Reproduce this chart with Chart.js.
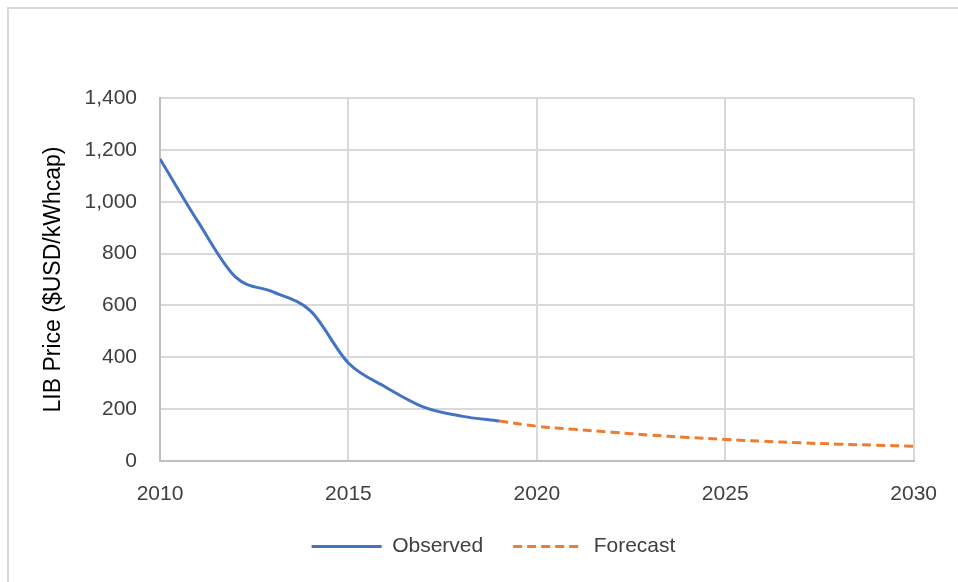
<!DOCTYPE html>
<html>
<head>
<meta charset="utf-8">
<script src="https://cdn.jsdelivr.net/npm/chart.js@4/dist/chart.umd.min.js"></script>
<style>
  html, body { margin: 0; padding: 0; background: #fff; }
  #wrap { position: relative; width: 958px; height: 582px; }
  #frame { position: absolute; left: 7px; top: 7px; right: -5px; bottom: -5px;
           border-left: 2px solid #d9d9d9; border-top: 2px solid #d9d9d9; pointer-events: none; }
  canvas { position: absolute; left: 0; top: 0; }
</style>
</head>
<body>
<div id="wrap">
  <canvas id="c" width="958" height="582"></canvas>
  <div id="frame"></div>
</div>
<script>
// ---- data ----
const observedYears  = [2010, 2011, 2012, 2013, 2014, 2015, 2016, 2017, 2018, 2019];
const observedValues = [1165, 925, 710, 652, 578, 378, 284, 208, 173, 154];
const forecastYears  = [2019, 2020, 2021, 2022, 2023, 2024, 2025, 2026, 2027, 2028, 2029, 2030];
const forecastValues = [154, 134, 122, 111, 100, 91, 83, 76, 70, 65, 61, 57];
const seriesNames    = ['Observed', 'Forecast'];
const yAxisTitle     = 'LIB Price ($USD/kWhcap)';
const xTickRange     = [2010, 2030, 5];
const yTickRange     = [0, 1400, 200];

const toPoints = (xs, ys) => xs.map((x, i) => ({ x: x, y: ys[i] }));

const FONT = "'Liberation Sans', Arial, sans-serif";

new Chart(document.getElementById('c'), {
  type: 'line',
  data: {
    datasets: [
      {
        label: seriesNames[0],
        data: toPoints(observedYears, observedValues),
        borderColor: '#4472C4',
        backgroundColor: '#4472C4',
        borderWidth: 3,
        pointRadius: 0,
        pointStyle: 'line',
        tension: 0.4,
        cubicInterpolationMode: 'monotone',
        fill: false
      },
      {
        label: seriesNames[1],
        data: toPoints(forecastYears, forecastValues),
        borderColor: '#ED7D31',
        backgroundColor: '#ED7D31',
        borderWidth: 3,
        borderDash: [9, 5],
        pointRadius: 0,
        pointStyle: 'line',
        tension: 0.4,
        fill: false
      }
    ]
  },
  options: {
    responsive: false,
    animation: false,
    locale: 'en-US',
    layout: { padding: { left: 49, right: 20, top: 98, bottom: 15 } },
    plugins: {
      tooltip: { enabled: false },
      legend: {
        position: 'bottom',
        labels: {
          font: { family: FONT, size: 21 },
          color: '#404040',
          usePointStyle: true,
          pointStyle: 'line',
          pointStyleWidth: 70,
          boxWidth: 70,
          boxHeight: 21,
          padding: 30,
          generateLabels: chart => {
            const items = Chart.defaults.plugins.legend.labels.generateLabels(chart);
            return items.map(it => {
              const ds = chart.data.datasets[it.datasetIndex];
              it.lineDash = ds.borderDash || [];
              it.lineWidth = ds.borderWidth;
              it.strokeStyle = ds.borderColor;
              it.lineCap = 'butt';
              return it;
            });
          }
        }
      }
    },
    scales: {
      x: {
        type: 'linear',
        min: xTickRange[0],
        max: xTickRange[1],
        ticks: {
          stepSize: xTickRange[2],
          padding: 21,
          color: '#404040',
          font: { family: FONT, size: 21 },
          callback: v => String(v),
          maxRotation: 0
        },
        grid: { color: '#d9d9d9', lineWidth: 2, drawTicks: false },
        border: { color: '#bfbfbf', width: 2 },
        afterFit: s => { s.height = 45; }
      },
      y: {
        min: yTickRange[0],
        max: yTickRange[1],
        ticks: {
          stepSize: yTickRange[2],
          padding: 23,
          color: '#404040',
          font: { family: FONT, size: 21 }
        },
        grid: { color: '#d9d9d9', lineWidth: 2, drawTicks: false },
        border: { color: '#bfbfbf', width: 2 },
        title: {
          display: true,
          text: yAxisTitle,
          color: '#000',
          font: { family: FONT, size: 23 },
          padding: { top: -9, bottom: 0 }
        },
        afterFit: s => { s.width = 111; }
      }
    }
  }
});
</script>
</body>
</html>
